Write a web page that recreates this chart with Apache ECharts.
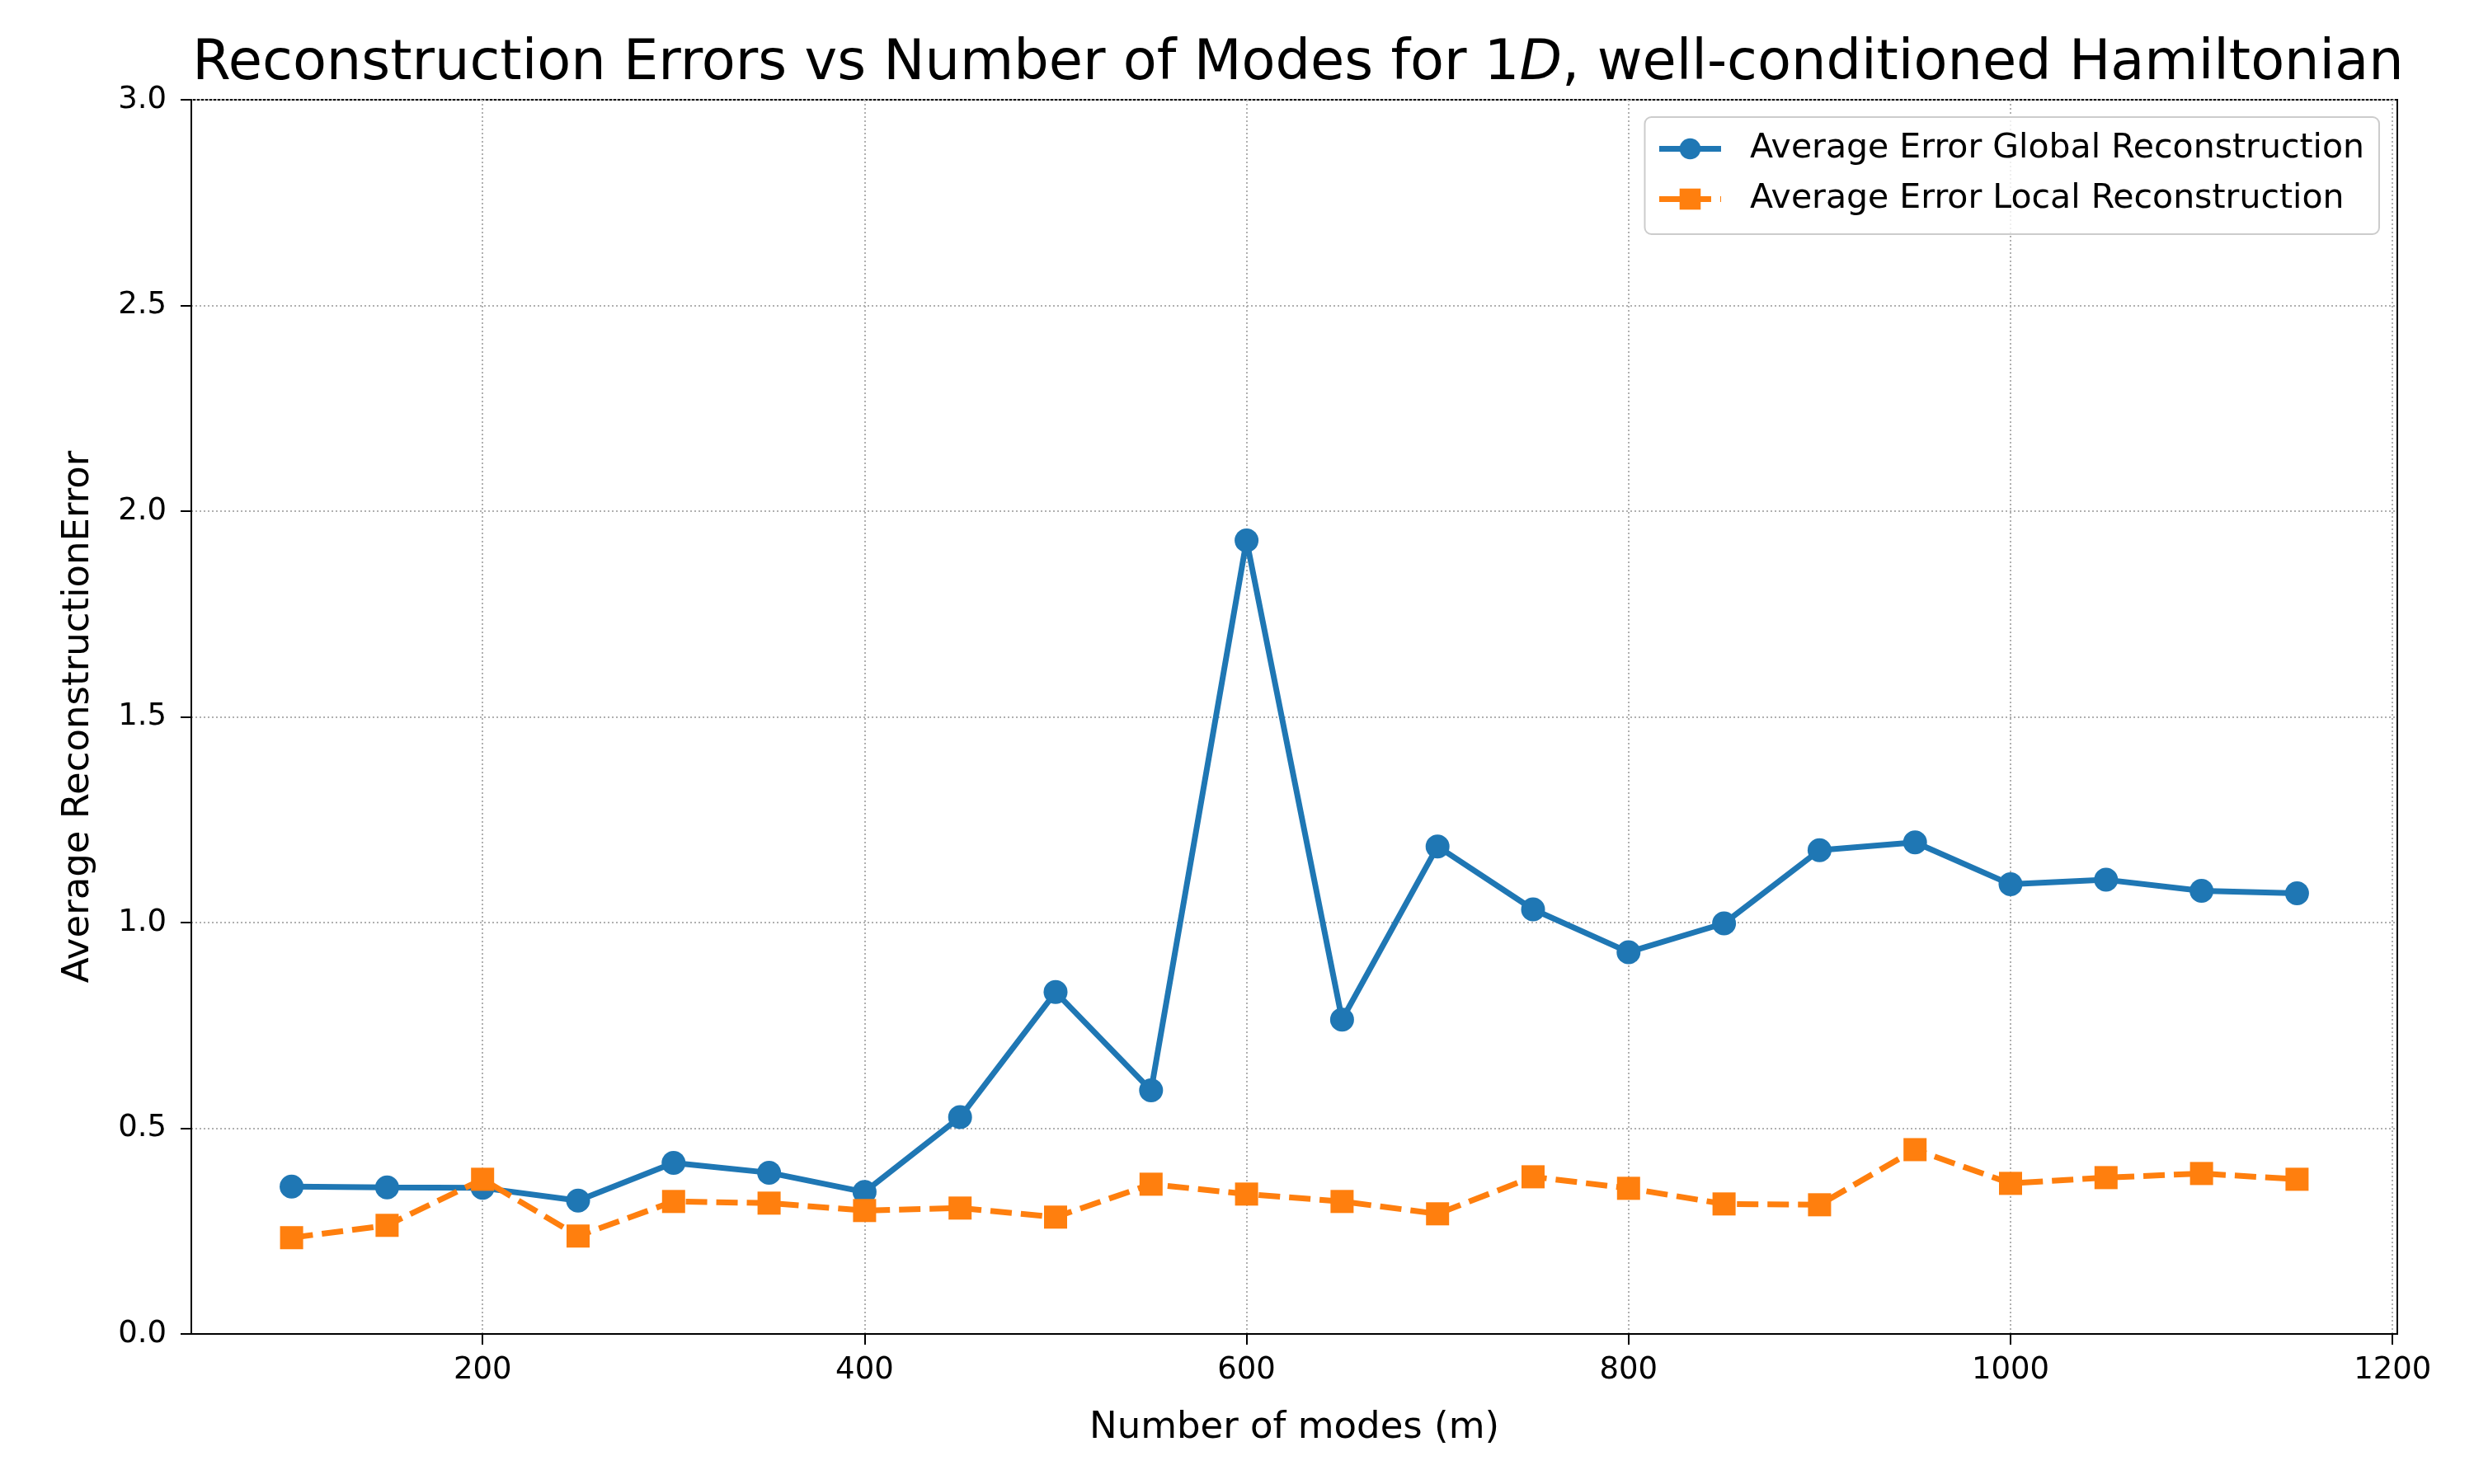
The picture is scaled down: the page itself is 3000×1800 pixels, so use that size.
<!DOCTYPE html>
<html>
<head>
<meta charset="UTF-8">
<title>Reconstruction Errors vs Number of Modes</title>
<script src="https://cdn.jsdelivr.net/npm/echarts@6/dist/echarts.min.js"></script>
<style>
  html, body { margin: 0; padding: 0; background: #fff; }
  #chart { width: 3000px; height: 1800px; }
</style>
</head>
<body>
<div id="chart"></div>
<script>
// data
var modes = [100, 150, 200, 250, 300, 350, 400, 450, 500, 550, 600,
             650, 700, 750, 800, 850, 900, 950, 1000, 1050, 1100, 1150];
var globalErr = [0.358, 0.356, 0.355, 0.324, 0.416, 0.392, 0.345, 0.527, 0.831, 0.592, 1.929,
                 0.764, 1.185, 1.032, 0.928, 0.998, 1.176, 1.195, 1.093, 1.104, 1.077, 1.071];
var localErr = [0.234, 0.264, 0.376, 0.238, 0.322, 0.318, 0.300, 0.306, 0.284, 0.364, 0.340,
                0.322, 0.292, 0.382, 0.354, 0.316, 0.314, 0.448, 0.366, 0.380, 0.390, 0.376];
var xTicks = [200, 400, 600, 800, 1000, 1200];
var yTicks = [0.0, 0.5, 1.0, 1.5, 2.0, 2.5, 3.0];

function pairs(xs, ys) {
    var out = [];
    for (var i = 0; i < xs.length; i++) out.push([xs[i], ys[i]]);
    return out;
}

var FONT = 'DejaVu Sans';
var gridLine = { show: true, lineStyle: { color: '#b0b0b0', width: 2, type: [2, 3] } };

var option = {
    animation: false,
    backgroundColor: '#fff',
    textStyle: { fontFamily: FONT },
    title: {
        text: 'Reconstruction Errors vs Number of Modes for 1{i|D}, well-conditioned Hamiltonian',
        left: 1569,
        top: 40,
        textAlign: 'center',
        textStyle: {
            fontFamily: FONT, fontSize: 67, fontWeight: 'normal', color: '#000',
            rich: { i: { fontFamily: FONT, fontSize: 67, fontStyle: 'italic', color: '#000' } }
        }
    },
    legend: {
        right: 115,
        top: 142,
        orient: 'vertical',
        padding: [18, 18, 22, 14],
        itemWidth: 75,
        itemHeight: 32,
        itemGap: 20,
        borderColor: '#cccccc',
        borderWidth: 2,
        borderRadius: 8,
        backgroundColor: 'rgba(255,255,255,0.8)',
        lineStyle: { width: 7 },
        textStyle: { fontFamily: FONT, fontSize: 41, color: '#000', padding: [0, 0, 0, 30] },
        data: ['Average Error Global Reconstruction', 'Average Error Local Reconstruction']
    },
    grid: {
        left: 232, right: 93, top: 121, bottom: 182,
        show: true, borderColor: '#000', borderWidth: 2, backgroundColor: 'transparent'
    },
    xAxis: {
        type: 'value',
        min: 47.5,
        max: 1202.5,
        interval: 200,
        name: 'Number of modes (m)',
        nameLocation: 'middle',
        nameGap: 92,
        nameTextStyle: { fontFamily: FONT, fontSize: 45, color: '#000' },
        axisLine: { show: true, onZero: false, lineStyle: { color: '#000', width: 2 } },
        axisTick: { show: true, length: 13, lineStyle: { color: '#000', width: 2 }, customValues: xTicks },
        axisLabel: {
            fontFamily: FONT, fontSize: 37, color: '#000', margin: 26,
            customValues: xTicks,
            formatter: function (v) { return String(v); }
        },
        splitLine: gridLine
    },
    yAxis: {
        type: 'value',
        min: 0,
        max: 3,
        interval: 0.5,
        name: 'Average ReconstructionError',
        nameLocation: 'middle',
        nameGap: 114,
        nameTextStyle: { fontFamily: FONT, fontSize: 45, color: '#000' },
        axisLine: { show: true, lineStyle: { color: '#000', width: 2 } },
        axisTick: { show: true, length: 13, lineStyle: { color: '#000', width: 2 }, customValues: yTicks },
        axisLabel: {
            fontFamily: FONT, fontSize: 37, color: '#000', margin: 30,
            customValues: yTicks,
            formatter: function (v) { return v.toFixed(1); }
        },
        splitLine: gridLine
    },
    series: [
        {
            name: 'Average Error Global Reconstruction',
            type: 'line',
            data: pairs(modes, globalErr),
            symbol: 'circle',
            symbolSize: 29,
            showAllSymbol: true,
            color: '#1f77b4',
            lineStyle: { color: '#1f77b4', width: 7 },
            itemStyle: { color: '#1f77b4' },
            z: 3
        },
        {
            name: 'Average Error Local Reconstruction',
            type: 'line',
            data: pairs(modes, localErr),
            symbol: 'rect',
            symbolSize: 28,
            showAllSymbol: true,
            color: '#ff7f0e',
            lineStyle: { color: '#ff7f0e', width: 7, type: [26, 11] },
            itemStyle: { color: '#ff7f0e' },
            z: 4
        }
    ]
};

var myChart = echarts.init(document.getElementById('chart'));
myChart.setOption(option);
</script>
</body>
</html>
